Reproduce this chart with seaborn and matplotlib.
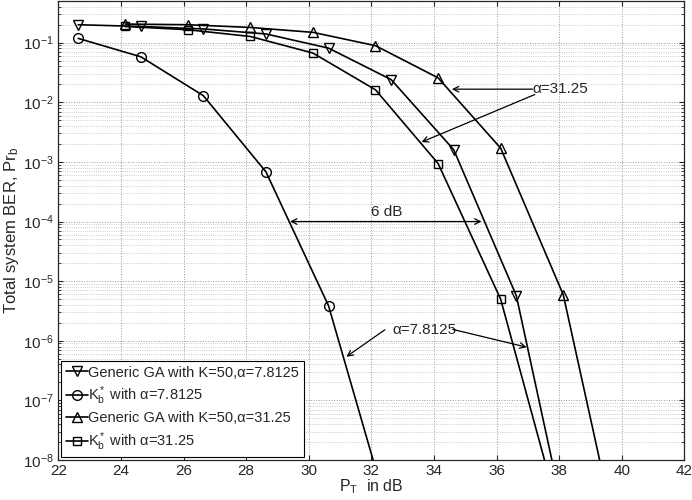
import numpy as np
import pandas as pd
import matplotlib
matplotlib.use("Agg")
import matplotlib.pyplot as plt
import seaborn as sns
from matplotlib.ticker import LogLocator, NullFormatter

# values
pt_a = [22.63, 24.63, 26.63, 28.63, 30.63, 32.63, 34.63, 36.63, 38.63]
pt_b = [24.13, 26.13, 28.13, 30.13, 32.13, 34.13, 36.13, 38.13, 40.13]

ga_78 = [0.20, 0.187, 0.17, 0.14, 0.081, 0.024, 0.0016, 5.7e-6, 8e-11]
kb_78 = [0.118, 0.058, 0.0129, 6.8e-4, 3.85e-6, 9e-10, 1e-12, 1e-13, 1e-14]
ga_31 = [0.205, 0.20, 0.18, 0.149, 0.089, 0.0257, 0.0017, 5.9e-6, 1e-10]
kb_31 = [0.187, 0.165, 0.127, 0.067, 0.0162, 9.4e-4, 4.97e-6, 7e-10, 1e-12]

labels = [
    "Generic GA with K=50,α=7.8125",
    r"K$_\mathrm{b}^*$ with α=7.8125",
    "Generic GA with K=50,α=31.25",
    r"K$_\mathrm{b}^*$ with α=31.25",
]

sns.set_style("ticks")
plt.rcParams["font.family"] = ["Liberation Sans", "DejaVu Sans"]
plt.rcParams["mathtext.fontset"] = "custom"
plt.rcParams["mathtext.rm"] = "Liberation Sans"
plt.rcParams["mathtext.it"] = "Liberation Sans:italic"
plt.rcParams["mathtext.sf"] = "Liberation Sans"

fig = plt.figure(figsize=(6.92, 5.0), dpi=100)
ax = fig.add_axes([0.0845, 0.08, 0.9045, 0.918])

series = [
    (pt_a, ga_78, "v"),
    (pt_a, kb_78, "o"),
    (pt_b, ga_31, "^"),
    (pt_b, kb_31, "s"),
]
for (x, y, m), lab in zip(series, labels):
    df = pd.DataFrame({"pt": x, "ber": y})
    sns.lineplot(data=df, x="pt", y="ber", ax=ax, color="black", lw=1.2,
                 marker=m, markersize=7 if m != "s" else 5.5,
                 markerfacecolor="none", markeredgecolor="black",
                 markeredgewidth=1.0, label=lab)

ax.set_yscale("log")
ax.set_xlim(22, 42)
ax.set_ylim(1e-8, 0.5)
ax.set_xticks(np.arange(22, 43, 2))
ax.set_yticks([10.0 ** k for k in range(-8, 0)])
ax.yaxis.set_minor_locator(LogLocator(base=10, subs=np.arange(2, 10), numticks=12))
ax.yaxis.set_minor_formatter(NullFormatter())
ax.set_ylim(1e-8, 0.5)

ax.grid(True, which="major", ls=":", color="#999999", lw=0.7)
ax.grid(True, which="minor", axis="y", ls=":", color="#bbbbbb", lw=0.6)
ax.tick_params(which="both", direction="in", top=True, right=True, labelsize=11)
ax.tick_params(axis="x", pad=3)
for s in ax.spines.values():
    s.set_linewidth(0.9)

ax.set_xlabel(r"P$_\mathrm{T}$  in dB", fontsize=11.5, labelpad=0)
ax.set_ylabel(r"Total system BER, Pr$_\mathrm{b}$", fontsize=12, labelpad=1)
ax.xaxis.set_label_coords(0.5, -0.037)

arrow = dict(arrowstyle="->", color="black", lw=0.9, shrinkA=0, shrinkB=0)
ax.text(37.15, 0.0166, "α=31.25", fontsize=11, va="center", ha="left")
ax.annotate("", xy=(34.57, 0.0166), xytext=(37.15, 0.0166), arrowprops=arrow)
ax.annotate("", xy=(33.6, 0.00215), xytext=(37.22, 0.0135), arrowprops=arrow)

ax.text(32.68, 1.53e-6, "α=7.8125", fontsize=11, va="center", ha="left")
ax.annotate("", xy=(31.2, 5.4e-7), xytext=(32.43, 1.53e-6), arrowprops=arrow)
ax.annotate("", xy=(36.96, 7.8e-7), xytext=(34.6, 1.55e-6), arrowprops=arrow)

ax.annotate("", xy=(29.4, 1e-4), xytext=(35.52, 1e-4),
            arrowprops=dict(arrowstyle="<->", color="black", lw=0.9,
                            shrinkA=0, shrinkB=0))
ax.text(32.48, 1.12e-4, "6 dB", fontsize=11, ha="center", va="bottom")

leg = ax.legend(loc="lower left", fontsize=10.5, handlelength=1.5,
                handletextpad=0.05, borderaxespad=0.2, borderpad=0.3,
                labelspacing=0.32, fancybox=False, framealpha=1,
                edgecolor="black")
leg.get_frame().set_linewidth(0.8)

fig.savefig("out.png", dpi=100)
